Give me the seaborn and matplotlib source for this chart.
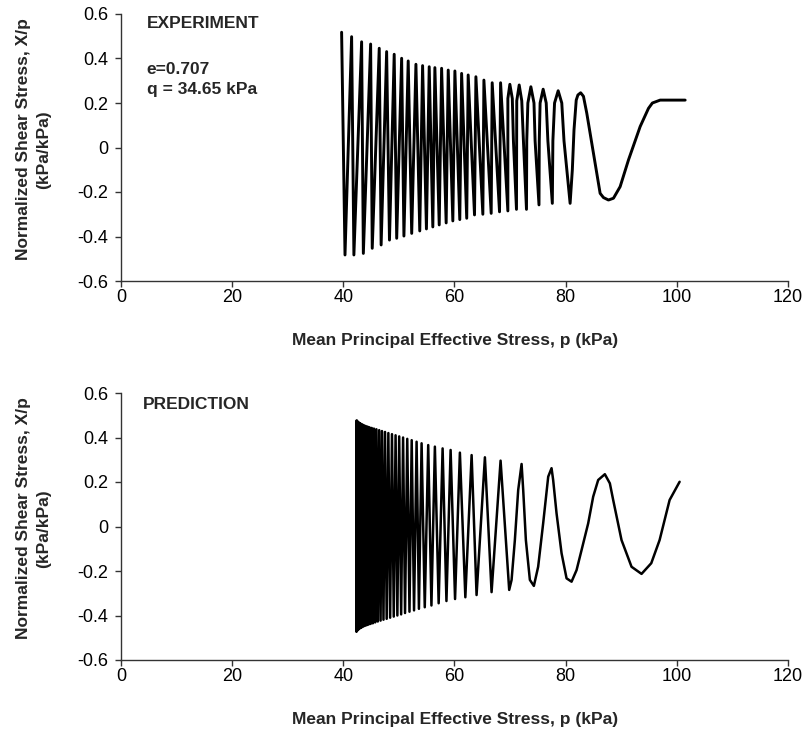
import numpy as np
import pandas as pd
import matplotlib
matplotlib.use("Agg")
import matplotlib.pyplot as plt
from matplotlib.ticker import FuncFormatter
import seaborn as sns

# experiment stress path (time runs from high p to low p)
exp_p = [101.5, 97.0, 95.6, 94.9, 93.4, 91.3, 89.8, 88.6, 87.7, 86.8, 86.2, 85.3, 83.8, 83.2, 82.7, 82.2, 81.9, 81.5, 81.2, 80.8,
         79.7, 79.3, 78.65, 78.0, 77.7, 77.6,
         76.8, 76.5, 75.95, 75.4, 75.25, 75.2,
         74.5, 74.3, 73.74, 73.2, 73.0, 72.95,
         72.4, 72.1, 71.64, 71.2, 71.15,
         70.6, 70.4, 69.96, 69.6, 69.6,
         68.29, 68.1, 66.78, 66.6, 65.29, 65.1, 63.85, 63.6, 62.46, 62.2,
         61.28, 60.95, 60.07, 59.7, 58.87, 58.5, 57.68, 57.25, 56.47, 56.1,
         55.45, 54.95, 54.26, 53.75, 53.06, 52.3, 51.67, 50.9, 50.49, 49.6,
         49.15, 48.3, 47.79, 46.8, 46.46, 45.2, 44.91, 43.6, 43.29, 41.9,
         41.49, 40.3, 39.69]
exp_x = [0.213, 0.213, 0.200, 0.176, 0.094, -0.056, -0.176, -0.228, -0.236, -0.225, -0.206, -0.071, 0.154, 0.230, 0.246, 0.236, 0.213, 0.079, -0.100, -0.251,
         0.030, 0.200, 0.255, 0.200, 0.030, -0.251,
         0.030, 0.200, 0.262, 0.200, 0.030, -0.258,
         0.030, 0.200, 0.273, 0.200, 0.030, -0.278,
         0.030, 0.210, 0.281, 0.210, -0.278,
         0.030, 0.220, 0.284, 0.220, -0.285,
         0.291, -0.289, 0.291, -0.296, 0.303, -0.300, 0.318, -0.303, 0.326, -0.318,
         0.333, -0.324, 0.344, -0.330, 0.348, -0.339, 0.356, -0.348, 0.359, -0.357,
         0.363, -0.366, 0.368, -0.375, 0.374, -0.386, 0.389, -0.398, 0.401, -0.408,
         0.419, -0.416, 0.431, -0.438, 0.446, -0.453, 0.465, -0.476, 0.475, -0.483,
         0.498, -0.483, 0.518]

# prediction stress path
pred_p = [100.5, 98.7, 96.9, 95.4, 93.65, 91.85, 90.05, 88.55, 87.95, 87.05, 85.85, 84.95, 84.05, 82.86, 81.96, 81.06,
          80.16, 79.26, 78.36, 77.75, 77.46, 76.86, 75.95, 75.05, 74.28, 73.56, 72.84, 72.36, 72.07, 71.46, 70.86, 70.27, 69.84,
          68.29, 66.67, 65.47, 63.97, 63.08, 61.95, 60.97, 60.1, 59.30, 58.55, 57.86, 57.15, 56.47, 55.85,
          55.27, 54.65, 54.08, 53.6, 53.18, 52.72, 52.3, 51.9, 51.5, 51.1, 50.75, 50.4, 50.05, 49.72,
          49.4, 49.07, 48.75, 48.42, 48.1, 47.8, 47.5, 47.22, 46.95, 46.7, 46.45, 46.2, 45.95, 45.72,
          45.5, 45.3, 45.1, 44.9, 44.7, 44.52, 44.35, 44.17, 44.0, 43.85, 43.7, 43.57, 43.45, 43.32,
          43.2, 43.1, 43.0, 42.9, 42.8, 42.72, 42.65, 42.57, 42.5, 42.45, 42.4, 42.35]
pred_x = [0.201, 0.119, -0.061, -0.165, -0.213, -0.181, -0.061, 0.119, 0.194, 0.235, 0.209, 0.134, 0.014, -0.106, -0.196, -0.248,
          -0.233, -0.120, 0.059, 0.209, 0.262, 0.224, 0.014, -0.181, -0.267, -0.240, -0.061, 0.164, 0.281, 0.164, -0.061, -0.240, -0.285,
          0.296, -0.295, 0.311, -0.308, 0.321, -0.318, 0.332, -0.326, 0.344, -0.335, 0.351, -0.345, 0.359, -0.355,
          0.366, -0.363, 0.374, -0.370, 0.381, -0.377, 0.388, -0.383, 0.394, -0.389, 0.400, -0.395, 0.405, -0.400,
          0.410, -0.405, 0.415, -0.410, 0.420, -0.415, 0.425, -0.419, 0.429, -0.423, 0.433, -0.427, 0.437, -0.431,
          0.440, -0.435, 0.443, -0.438, 0.446, -0.441, 0.449, -0.444, 0.452, -0.447, 0.455, -0.450, 0.458, -0.453,
          0.461, -0.456, 0.464, -0.459, 0.467, -0.463, 0.470, -0.466, 0.474, -0.470, 0.477, -0.473]

x_ticks = [0, 20, 40, 60, 80, 100, 120]
y_ticks = [-0.6, -0.4, -0.2, 0, 0.2, 0.4, 0.6]

sns.set_theme(style="ticks")
plt.rcParams['font.family'] = ['Liberation Sans', 'DejaVu Sans']

exp_df = pd.DataFrame({'p': exp_p, 'X': exp_x})
pred_df = pd.DataFrame({'p': pred_p, 'X': pred_x})

fig = plt.figure(figsize=(8.1, 7.29), dpi=100)
W, H = 810, 729
ax1 = fig.add_axes([121 / W, 1 - 281 / H, 667 / W, 267 / H])
ax2 = fig.add_axes([121 / W, 1 - 660 / H, 667 / W, 267 / H])

sns.lineplot(data=exp_df, x='p', y='X', sort=False, estimator=None, color='black',
             lw=2.1, ax=ax1, solid_joinstyle='round', solid_capstyle='round')
sns.lineplot(data=pred_df, x='p', y='X', sort=False, estimator=None, color='black',
             lw=1.8, ax=ax2, solid_joinstyle='round', solid_capstyle='round')

fmt = FuncFormatter(lambda v, _: "0" if abs(v) < 1e-9 else f"{v:.1f}")
for ax, top in [(ax1, 14), (ax2, 393)]:
    ax.set_xlim(0, 120)
    ax.set_ylim(-0.6, 0.6)
    ax.set_xticks(x_ticks)
    ax.set_yticks(y_ticks)
    ax.yaxis.set_major_formatter(fmt)
    ax.set_xlabel("")
    ax.set_ylabel("")
    for s in ['top', 'right']:
        ax.spines[s].set_visible(False)
    for s in ['left', 'bottom']:
        ax.spines[s].set_color('#333333')
        ax.spines[s].set_linewidth(1.0)
    ax.tick_params(axis='both', direction='out', length=4, width=1, color='#333333',
                   labelsize=13, labelcolor='black')
    ax.tick_params(axis='y', pad=5)
    ax.tick_params(axis='x', pad=2)
    ax.set_facecolor('white')

    # axis titles
    mid = top + 133.5
    fig.text(24 / W, 1 - (mid - 8) / H, "Normalized Shear Stress, X/p", rotation=90,
             ha='center', va='center', fontsize=12.5, fontweight='bold')
    fig.text(44 / W, 1 - (mid + 2) / H, "(kPa/kPa)", rotation=90,
             ha='center', va='center', fontsize=12.5, fontweight='bold')
    fig.text(455 / W, 1 - (top + 319) / H, "Mean Principal Effective Stress, p (kPa)",
             ha='center', va='top', fontsize=12.5, fontweight='bold')

ax1.text(4.6, 0.59, "EXPERIMENT", ha='left', va='top', fontsize=12.5, fontweight='bold')
ax1.text(4.6, 0.385, "e=0.707", ha='left', va='top', fontsize=12.5, fontweight='bold')
ax1.text(4.6, 0.295, "q = 34.65 kPa", ha='left', va='top', fontsize=12.5, fontweight='bold')
ax2.text(4.0, 0.58, "PREDICTION", ha='left', va='top', fontsize=12.5, fontweight='bold')

fig.savefig("out.png", dpi=100, facecolor='white')
